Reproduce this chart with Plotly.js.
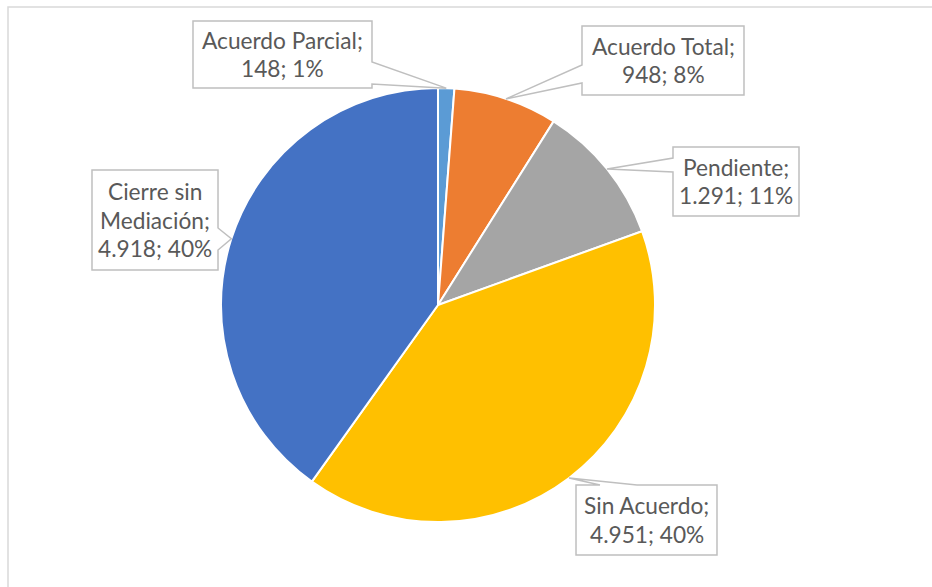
<!DOCTYPE html>
<html><head><meta charset="utf-8">
<script src="https://cdn.plot.ly/plotly-3.0.1.min.js"></script>
<style>html,body{margin:0;padding:0;background:#fff;}#chart{width:932px;height:587px;}</style>
</head><body><div id="chart"></div>
<script>
// ---- data ----
const categories = ["Acuerdo Parcial", "Acuerdo Total", "Pendiente", "Sin Acuerdo", "Cierre sin Mediación"];
const values = [148, 948, 1291, 4951, 4918];
const colors = ["#5B9BD5", "#ED7D31", "#A5A5A5", "#FFC000", "#4472C4"];
// label line breaks for the category names
const nameLines = {
  "Cierre sin Mediación": ["Cierre sin", "Mediación;"]
};

// ---- layout config ----
const W = 932, H = 587;
const dom = {x: [0.2371, 0.7028], y: [0.1107, 0.8501]};
// callout boxes in pixels (x0,y0,x1,y1), side where pointer attaches, base span
const boxes = {
  "Acuerdo Parcial": {x0:193, y0:21, x1:372, y1:88, side:"right", b0:62, b1:84},
  "Acuerdo Total": {x0:582, y0:26, x1:744, y1:95, side:"left", b0:65, b1:83},
  "Pendiente": {x0:673, y0:147, x1:799, y1:216, side:"left", b0:158, b1:172},
  "Sin Acuerdo": {x0:576, y0:485, x1:717, y1:555, side:"top", b0:600, b1:637},
  "Cierre sin Mediación": {x0:92, y0:170, x1:218, y1:270, side:"right", b0:228, b1:250}
};
const FONT = "Lato, 'Open Sans', sans-serif";
const FSIZE = 22.7;
const LINE = 28.5;

const total = values.reduce((a,b)=>a+b,0);
const cx = (dom.x[0]+dom.x[1])/2*W;
const cy = H - (dom.y[0]+dom.y[1])/2*H;
const R = Math.min((dom.x[1]-dom.x[0])*W, (dom.y[1]-dom.y[0])*H)/2;

const fmt = v => v.toString().replace(/\B(?=(\d{3})+(?!\d))/g, ".");
const px = x => x/W, py = y => 1 - y/H;
const P = (x,y) => px(x).toFixed(5) + "," + py(y).toFixed(5);

const shapes = [];
const annotations = [];

// outer frame
shapes.push({type:"path", xref:"paper", yref:"paper",
  path:"M" + P(8, H) + " L" + P(8, 7) + " L" + P(W, 7),
  line:{color:"#d9d9d9", width:1.5}});

let cum = 0;
categories.forEach((name, i) => {
  const v = values[i];
  const mid = (cum + v/2)/total * 2*Math.PI;
  cum += v;
  const tx = cx + R*Math.sin(mid);
  const ty = cy - R*Math.cos(mid);
  const b = boxes[name];
  let d = "M" + P(b.x0, b.y0);
  if (b.side === "top") d += " L" + P(b.b0, b.y0) + " L" + P(tx, ty) + " L" + P(b.b1, b.y0);
  d += " L" + P(b.x1, b.y0);
  if (b.side === "right") d += " L" + P(b.x1, b.b0) + " L" + P(tx, ty) + " L" + P(b.x1, b.b1);
  d += " L" + P(b.x1, b.y1);
  if (b.side === "bottom") d += " L" + P(b.b1, b.y1) + " L" + P(tx, ty) + " L" + P(b.b0, b.y1);
  d += " L" + P(b.x0, b.y1);
  if (b.side === "left") d += " L" + P(b.x0, b.b1) + " L" + P(tx, ty) + " L" + P(b.x0, b.b0);
  d += " Z";
  shapes.push({type:"path", xref:"paper", yref:"paper", layer:"above", path:d,
    fillcolor:"#ffffff", line:{color:"#bfbfbf", width:1.5}});

  const pct = Math.round(v/total*100);
  const lines = (nameLines[name] || [name + ";"]).concat([fmt(v) + "; " + pct + "%"]);
  const bcx = (b.x0+b.x1)/2, bcy = (b.y0+b.y1)/2;
  lines.forEach((t, k) => {
    const yy = bcy + (k - (lines.length-1)/2)*LINE;
    annotations.push({xref:"paper", yref:"paper", x:px(bcx), y:py(yy),
      xanchor:"center", yanchor:"middle", showarrow:false, text:t,
      font:{family:FONT, size:FSIZE, color:"#595959"}});
  });
});

const trace = {
  type:"pie", labels:categories, values:values, sort:false, direction:"clockwise",
  rotation:0, textinfo:"none", hoverinfo:"none",
  marker:{colors:colors, line:{color:"#ffffff", width:2}},
  domain:dom
};
const layout = {
  width:W, height:H, margin:{l:0,r:0,t:0,b:0}, showlegend:false,
  paper_bgcolor:"#ffffff", shapes:shapes, annotations:annotations
};
Plotly.newPlot("chart", [trace], layout, {staticPlot:true, displayModeBar:false});
</script></body></html>
